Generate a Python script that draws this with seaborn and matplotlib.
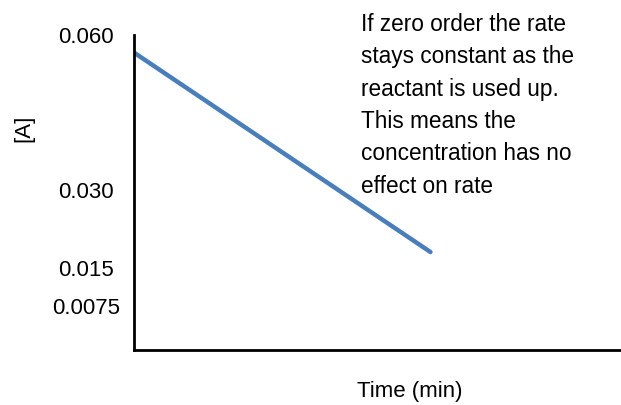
import matplotlib
matplotlib.use('Agg')
import matplotlib.pyplot as plt
import seaborn as sns
import pandas as pd

# データ
time_min = [0, 6.1]
conc_a = [0.0566, 0.0180]
y_ticks = [0.060, 0.030, 0.015, 0.0075]
y_tick_labels = ['0.060', '0.030', '0.015', '0.0075']
note = ('If zero order the rate\nstays constant as the\nreactant is used up.\n'
        'This means the\nconcentration has no\neffect on rate')

df = pd.DataFrame({'Time': time_min, 'A': conc_a})

sns.set_style('white')
plt.rcParams['font.family'] = ['Liberation Sans', 'DejaVu Sans']
plt.rcParams['text.color'] = 'black'
plt.rcParams['axes.labelcolor'] = 'black'
plt.rcParams['ytick.color'] = 'black'

fig = plt.figure(figsize=(6.21, 4.05), dpi=100)
ax = fig.add_axes([134 / 621, 1 - 350 / 405, 486 / 621, 315 / 405])

sns.lineplot(data=df, x='Time', y='A', color='#4a7ebb', linewidth=3.2, ax=ax)

ax.set_xlim(0, 10)
ax.set_ylim(-0.00096, 0.05943)

# 軸の見た目
for side in ['top', 'right']:
    ax.spines[side].set_visible(False)
for side in ['left', 'bottom']:
    ax.spines[side].set_color('black')
    ax.spines[side].set_linewidth(2)

ax.set_xticks([])
ax.set_yticks(y_ticks)
ax.set_yticklabels(y_tick_labels, fontsize=16)
for lab in ax.get_yticklabels():
    lab.set_ha('center')
ax.tick_params(axis='y', length=0, pad=34.5)

ax.set_xlabel('Time (min)', fontsize=16)
ax.xaxis.set_label_coords((410 - 134) / 486, (350 - 392) / 315)
ax.xaxis.label.set_va('center')
ax.set_ylabel('[A]', fontsize=16)
ax.yaxis.set_label_coords((24 - 134) / 486, (350 - 128) / 315)
ax.yaxis.label.set_va('center')

# 注釈テキスト
fig.text(361 / 621, 1 - 13 / 405, note, fontsize=16.3, ha='left', va='top',
         linespacing=1.52)

fig.savefig('out.png', dpi=100)
